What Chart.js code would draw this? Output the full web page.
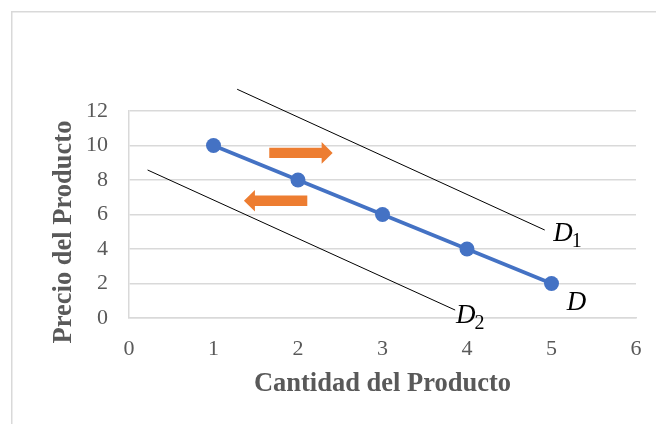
<!DOCTYPE html>
<html>
<head>
<meta charset="utf-8">
<script src="https://cdn.jsdelivr.net/npm/chart.js@4/dist/chart.umd.min.js"></script>
<style>
  html, body { margin: 0; padding: 0; background: #ffffff; }
  #wrap { width: 656px; height: 424px; }
</style>
</head>
<body>
<div id="wrap"><canvas id="chart" width="656" height="424"></canvas></div>
<script>
// Demand curve D: quantity vs. price
const quantity = [1, 2, 3, 4, 5];
const price = [10, 8, 6, 4, 2];

// Shifted demand curves (end points)
const d1Qty = [1.28, 4.92];
const d1Price = [13.26, 5.10];
const d2Qty = [0.22, 3.86];
const d2Price = [8.58, 0.46];

// Axis ranges
const xTicks = [0, 1, 2, 3, 4, 5, 6];
const yTicks = [0, 2, 4, 6, 8, 10, 12];

// Shift arrows: tail quantity, tip quantity, price level
const arrowTailQty = [1.66, 2.11];
const arrowTipQty = [2.41, 1.36];
const arrowPrice = [9.57, 6.80];

// Curve names: main letter, subscript, anchor (quantity, price)
const curveNames = ['D', 'D', 'D'];
const curveSubs = ['1', '2', ''];
const curveNameQty = [5.02, 3.87, 5.18];
const curveNamePrice = [4.46, -0.29, 0.46];

const GRAY_TEXT = '#595959';
const GRID = '#d9d9d9';
const BLUE = '#4472C4';
const ORANGE = '#ED7D31';

const frame = {
  id: 'frame',
  beforeDraw(chart) {
    const ctx = chart.ctx;
    ctx.save();
    ctx.fillStyle = '#ffffff';
    ctx.fillRect(0, 0, chart.width, chart.height);
    ctx.strokeStyle = GRID;
    ctx.lineWidth = 1.5;
    ctx.beginPath();
    ctx.moveTo(11.75, chart.height);
    ctx.lineTo(11.75, 11.75);
    ctx.lineTo(chart.width, 11.75);
    ctx.stroke();
    ctx.restore();
  }
};

const annotations = {
  id: 'annotations',
  afterDatasetsDraw(chart) {
    const ctx = chart.ctx;
    const xs = chart.scales.x, ys = chart.scales.y;
    ctx.save();
    // shift arrows
    ctx.fillStyle = ORANGE;
    for (let i = 0; i < arrowPrice.length; i++) {
      const x0 = xs.getPixelForValue(arrowTailQty[i]);
      const x1 = xs.getPixelForValue(arrowTipQty[i]);
      const y = ys.getPixelForValue(arrowPrice[i]);
      const dir = Math.sign(x1 - x0);
      const head = 11, bodyH = 5.2, headH = 10.8;
      const xb = x1 - dir * head;
      ctx.beginPath();
      ctx.moveTo(x0, y - bodyH);
      ctx.lineTo(xb, y - bodyH);
      ctx.lineTo(xb, y - headH);
      ctx.lineTo(x1, y);
      ctx.lineTo(xb, y + headH);
      ctx.lineTo(xb, y + bodyH);
      ctx.lineTo(x0, y + bodyH);
      ctx.closePath();
      ctx.fill();
    }
    // curve names
    ctx.fillStyle = '#000000';
    ctx.textBaseline = 'alphabetic';
    ctx.textAlign = 'left';
    for (let i = 0; i < curveNames.length; i++) {
      const x = xs.getPixelForValue(curveNameQty[i]);
      const y = ys.getPixelForValue(curveNamePrice[i]);
      ctx.font = 'italic 27px "Liberation Serif", serif';
      ctx.fillText(curveNames[i], x, y);
      const w = ctx.measureText(curveNames[i]).width;
      if (curveSubs[i]) {
        ctx.font = '20px "Liberation Serif", serif';
        ctx.fillText(curveSubs[i], x + w - 1, y + 6);
      }
    }
    // vertical axis title
    ctx.fillStyle = GRAY_TEXT;
    ctx.font = 'bold 26.5px "Liberation Serif", serif';
    ctx.textAlign = 'center';
    ctx.textBaseline = 'middle';
    ctx.translate(64, 232);
    ctx.rotate(-Math.PI / 2);
    ctx.fillText('Precio del Producto', 0, 0);
    ctx.restore();
  }
};

const pts = (xs, ys) => xs.map((x, i) => ({ x: x, y: ys[i] }));

new Chart(document.getElementById('chart'), {
  type: 'scatter',
  data: {
    datasets: [
      {
        label: 'D1',
        data: pts(d1Qty, d1Price),
        showLine: true,
        borderColor: '#000000',
        borderWidth: 1,
        pointRadius: 0,
        clip: false
      },
      {
        label: 'D2',
        data: pts(d2Qty, d2Price),
        showLine: true,
        borderColor: '#000000',
        borderWidth: 1,
        pointRadius: 0,
        clip: false
      },
      {
        label: 'D',
        data: pts(quantity, price),
        showLine: true,
        borderColor: BLUE,
        borderWidth: 3.75,
        pointRadius: 7.5,
        pointBackgroundColor: BLUE,
        pointBorderColor: BLUE,
        pointBorderWidth: 0,
        clip: false
      }
    ]
  },
  options: {
    responsive: false,
    animation: false,
    layout: { padding: { left: 0, top: 111, right: 20, bottom: 0 } },
    plugins: {
      legend: { display: false },
      tooltip: { enabled: false }
    },
    scales: {
      x: {
        type: 'linear',
        min: xTicks[0],
        max: xTicks[xTicks.length - 1],
        afterBuildTicks(scale) { scale.ticks = xTicks.map(v => ({ value: v })); },
        afterFit(scale) {
          scale.height = 106;
          scale.paddingLeft = 0;
          scale.paddingRight = 0;
        },
        grid: { display: false, drawTicks: false },
        border: { display: true, color: GRID, width: 1.5 },
        ticks: {
          padding: 18,
          color: GRAY_TEXT,
          font: { family: '"Liberation Serif", serif', size: 22 },
          maxRotation: 0
        },
        title: {
          display: true,
          text: 'Cantidad del Producto',
          color: GRAY_TEXT,
          font: { family: '"Liberation Serif", serif', size: 26.5, weight: 'bold' },
          padding: { top: 0, bottom: 24 }
        }
      },
      y: {
        type: 'linear',
        min: yTicks[0],
        max: yTicks[yTicks.length - 1],
        afterBuildTicks(scale) { scale.ticks = yTicks.map(v => ({ value: v })); },
        afterFit(scale) {
          scale.width = 129;
          scale.paddingTop = 0;
          scale.paddingBottom = 0;
        },
        grid: { color: GRID, lineWidth: 1.5, drawTicks: false },
        border: { display: true, color: GRID, width: 1.5 },
        ticks: {
          padding: 21,
          color: GRAY_TEXT,
          font: { family: '"Liberation Serif", serif', size: 22 }
        }
      }
    }
  },
  plugins: [frame, annotations]
});
</script>
</body>
</html>
